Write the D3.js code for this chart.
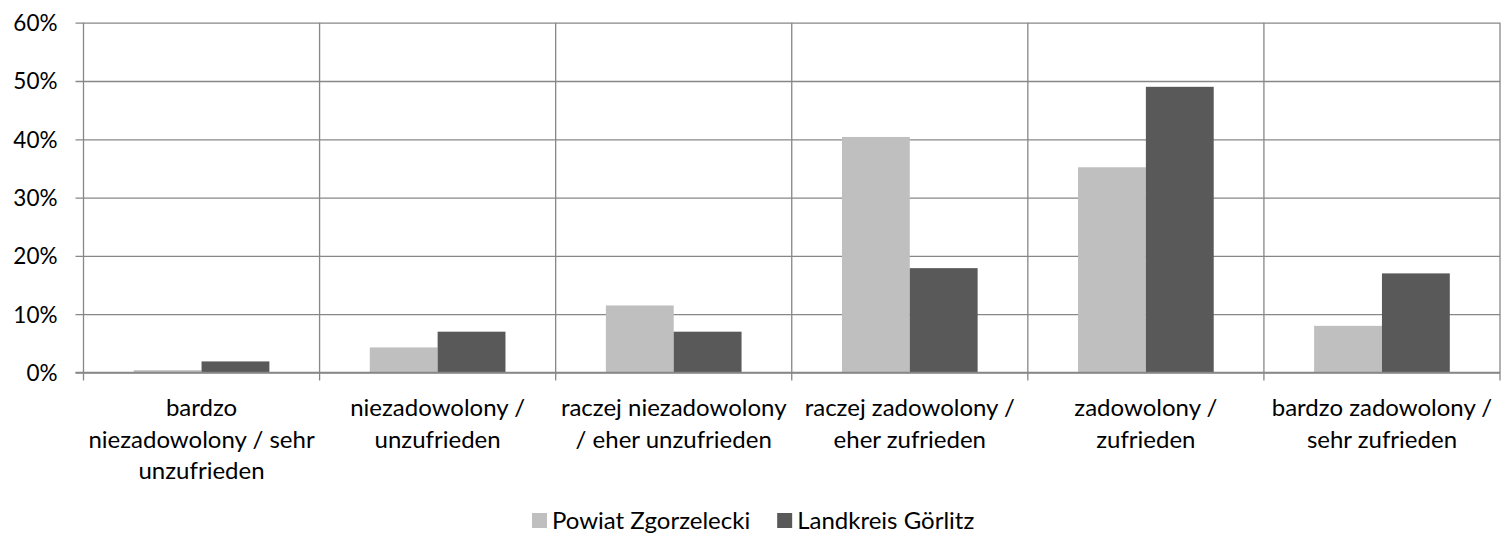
<!DOCTYPE html>
<html>
<head>
<meta charset="utf-8">
<script src="https://cdn.jsdelivr.net/npm/d3@7"></script>
<style>
  body { margin: 0; background: #fff; }
  svg text { font-family: Lato, "Open Sans", sans-serif; fill: #000; }
</style>
</head>
<body>
<svg id="chart" width="1501" height="539"></svg>
<script>
// data
const categories = [
  "bardzo\nniezadowolony / sehr\nunzufrieden",
  "niezadowolony /\nunzufrieden",
  "raczej niezadowolony\n/ eher unzufrieden",
  "raczej zadowolony /\neher zufrieden",
  "zadowolony /\nzufrieden",
  "bardzo zadowolony /\nsehr zufrieden"
];
const seriesNames = ["Powiat Zgorzelecki", "Landkreis Görlitz"];
const powiat = [0.4, 4.3, 11.5, 40.4, 35.2, 8.0];
const landkreis = [1.9, 7.0, 7.0, 17.9, 49.0, 17.0];
const yTicks = [0, 10, 20, 30, 40, 50, 60];
const colors = ["#bfbfbf", "#595959"];

const svg = d3.select("#chart");
const mLeft = 83.5, mRight = 1500, mTop = 22.7, mBottom = 372.5;
const gridColor = "#878787";
const fs = 24;

const x0 = d3.scaleBand().domain(categories).range([mLeft, mRight]);
const x1 = d3.scaleBand().domain(seriesNames).range([0, x0.bandwidth()])
  .paddingInner(0).paddingOuter(0.74);
const y = d3.scaleLinear().domain([0, 60]).range([mBottom, mTop]);

// horizontal grid + y ticks
const yAxis = svg.append("g").attr("class", "y")
  .attr("transform", `translate(${mLeft},0)`)
  .call(d3.axisLeft(y).tickValues(yTicks).tickFormat(d => d + "%")
    .tickSize(-(mRight - mLeft)).tickPadding(0));
yAxis.select(".domain").remove();
yAxis.selectAll(".tick line").attr("stroke", gridColor).attr("stroke-width", 1.3)
  .attr("x1", -8);
yAxis.selectAll(".tick text").attr("x", -26).attr("font-size", 22.5).attr("dy", "0.35em");

// vertical gridlines at category boundaries
const bounds = categories.map(c => x0(c)).concat([mRight]);
svg.append("g").selectAll("line").data(bounds).enter().append("line")
  .attr("x1", d => d).attr("x2", d => d)
  .attr("y1", mTop).attr("y2", mBottom + 8)
  .attr("stroke", gridColor).attr("stroke-width", 1.3);

// bars
const rows = categories.map((c, i) => ({ cat: c, vals: [powiat[i], landkreis[i]] }));
const groups = svg.append("g").selectAll("g").data(rows).enter().append("g")
  .attr("transform", d => `translate(${x0(d.cat)},0)`);
groups.selectAll("rect").data(d => d.vals.map((v, j) => ({ v, j }))).enter().append("rect")
  .attr("x", d => x1(seriesNames[d.j]))
  .attr("width", x1.bandwidth())
  .attr("y", d => y(d.v))
  .attr("height", d => y(0) - y(d.v))
  .attr("fill", d => colors[d.j]);

// redraw zero line on top
svg.append("line").attr("x1", mLeft - 8).attr("x2", mRight)
  .attr("y1", y(0)).attr("y2", y(0))
  .attr("stroke", gridColor).attr("stroke-width", 1.3);

// category labels
const lab = svg.append("g").selectAll("text").data(categories).enter().append("text")
  .attr("text-anchor", "middle").attr("font-size", fs)
  .attr("x", d => x0(d) + x0.bandwidth() / 2)
  .attr("y", 416);
lab.selectAll("tspan").data(d => d.split("\n")).enter().append("tspan")
  .attr("x", function () { return d3.select(this.parentNode).attr("x"); })
  .attr("dy", (d, i) => i === 0 ? 0 : 31.5)
  .text(d => d);

// legend
const leg = svg.append("g").attr("transform", "translate(532,513)");
let lx = 0;
seriesNames.forEach((name, i) => {
  const item = leg.append("g").attr("transform", `translate(${lx},0)`);
  item.append("rect").attr("width", 15).attr("height", 15).attr("fill", colors[i]);
  const t = item.append("text").attr("x", 20).attr("y", 15.5).attr("font-size", fs).text(name);
  lx += 20 + t.node().getComputedTextLength() + 27;
});
</script>
</body>
</html>
